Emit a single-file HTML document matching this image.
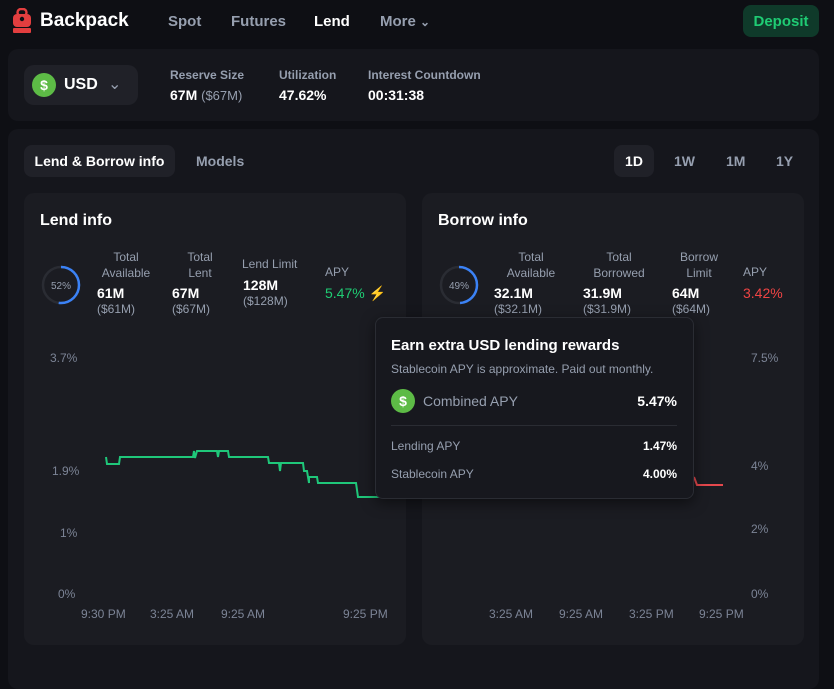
<!DOCTYPE html><html><head><style>
*{margin:0;padding:0;box-sizing:border-box}
body{width:834px;height:667px;background:#0e0f14;font-family:"Liberation Sans",sans-serif;color:#fff;position:relative;overflow:hidden}
.a{position:absolute;white-space:nowrap}
.g{color:#969faf}.gd{color:#7c8496}
.b{font-weight:bold}
.c{text-align:center}
.r{text-align:right}
</style></head><body>
<!-- nav -->
<svg class="a" style="left:12px;top:8px" width="20" height="26"><rect x="5.5" y="1" width="9" height="7" rx="3.5" fill="none" stroke="#e33e3f" stroke-width="2.4"/><rect x="1" y="6" width="18" height="13" rx="4" fill="#e33e3f"/><circle cx="10" cy="11" r="2.2" fill="#0e0f14"/><rect x="1" y="20" width="18" height="5" rx="1" fill="#e33e3f"/></svg>
<div class="a b" style="left:40px;top:10px;font-size:19px">Backpack</div>
<div class="a b g" style="left:168px;top:13px;font-size:15px">Spot</div>
<div class="a b g" style="left:231px;top:13px;font-size:15px">Futures</div>
<div class="a b" style="left:314px;top:13px;font-size:15px">Lend</div>
<div class="a b g" style="left:380px;top:13px;font-size:15px">More <span style="font-size:12px">&#8964;</span></div>
<div class="a b" style="left:743px;top:5px;width:76px;height:32px;border-radius:8px;background:#0f3a2a;color:#1fcc74;font-size:15px;display:flex;align-items:center;justify-content:center">Deposit</div>
<!-- panel 1 -->
<div class="a" style="left:8px;top:49px;width:811px;height:72px;border-radius:10px;background:#15161c"></div>
<div class="a" style="left:24px;top:65px;width:114px;height:40px;border-radius:10px;background:#202128"></div>
<div class="a" style="left:32px;top:73px;width:24px;height:24px;border-radius:50%;background:#5dbb46;text-align:center;line-height:24px;font-size:14px;font-weight:bold">$</div>
<div class="a b" style="left:64px;top:76px;font-size:16px">USD</div>
<div class="a g" style="left:108px;top:74px;font-size:16px">&#8964;</div>
<div class="a g b" style="left:170px;top:68px;font-size:12px">Reserve Size</div>
<div class="a b" style="left:170px;top:87px;font-size:14px">67M <span class="g" style="font-weight:normal;font-size:13px">($67M)</span></div>
<div class="a g b" style="left:279px;top:68px;font-size:12px">Utilization</div>
<div class="a b" style="left:279px;top:87px;font-size:14px">47.62%</div>
<div class="a g b" style="left:368px;top:68px;font-size:12px">Interest Countdown</div>
<div class="a b" style="left:368px;top:87px;font-size:14px">00:31:38</div>
<!-- panel 2 -->
<div class="a" style="left:8px;top:129px;width:811px;height:560px;border-radius:10px;background:#15161c"></div>
<div class="a b" style="left:24px;top:145px;width:151px;height:32px;border-radius:8px;background:#202128;font-size:14px;text-align:center;line-height:32px">Lend &amp; Borrow info</div>
<div class="a b g" style="left:196px;top:153px;font-size:14px">Models</div>
<div class="a b" style="left:614px;top:145px;width:40px;height:32px;border-radius:8px;background:#202128;font-size:14px;text-align:center;line-height:32px">1D</div>
<div class="a b g" style="left:674px;top:153px;font-size:14px">1W</div>
<div class="a b g" style="left:726px;top:153px;font-size:14px">1M</div>
<div class="a b g" style="left:776px;top:153px;font-size:14px">1Y</div>
<!-- cards -->
<div class="a" style="left:24px;top:193px;width:382px;height:452px;border-radius:10px;background:#1b1c22"></div>
<div class="a" style="left:422px;top:193px;width:382px;height:452px;border-radius:10px;background:#1b1c22"></div>
<div class="a b" style="left:40px;top:212px;font-size:16px">Lend info</div>
<div class="a b" style="left:438px;top:212px;font-size:16px">Borrow info</div>
<svg class="a" style="left:40px;top:264px" width="42" height="42"><circle cx="21" cy="21" r="18" fill="none" stroke="#2a2c33" stroke-width="2.5"/><circle cx="21" cy="21" r="18" fill="none" stroke="#3b82f6" stroke-width="2.5" stroke-dasharray="58.8 113.1" transform="rotate(-90 21 21)"/><text x="21" y="25" fill="#969faf" font-size="10" text-anchor="middle" font-family="Liberation Sans">52%</text></svg>
<svg class="a" style="left:438px;top:264px" width="42" height="42"><circle cx="21" cy="21" r="18" fill="none" stroke="#2a2c33" stroke-width="2.5"/><circle cx="21" cy="21" r="18" fill="none" stroke="#3b82f6" stroke-width="2.5" stroke-dasharray="55.4 113.1" transform="rotate(-90 21 21)"/><text x="21" y="25" fill="#969faf" font-size="10" text-anchor="middle" font-family="Liberation Sans">49%</text></svg>
<div class="a g c" style="left:96px;top:249px;width:60px;font-size:12px;line-height:16px">Total<br>Available</div>
<div class="a b" style="left:97px;top:285px;font-size:14px">61M</div><div class="a g" style="left:97px;top:302px;font-size:12px">($61M)</div>
<div class="a g c" style="left:180px;top:249px;width:40px;font-size:12px;line-height:16px">Total<br>Lent</div>
<div class="a b" style="left:172px;top:285px;font-size:14px">67M</div><div class="a g" style="left:172px;top:302px;font-size:12px">($67M)</div>
<div class="a g" style="left:242px;top:257px;font-size:12px">Lend Limit</div>
<div class="a b" style="left:243px;top:277px;font-size:14px">128M</div><div class="a g" style="left:243px;top:294px;font-size:12px">($128M)</div>
<div class="a g" style="left:325px;top:265px;font-size:12px">APY</div>
<div class="a" style="left:325px;top:285px;font-size:14px;color:#1fcc74">5.47% <span style="color:#f5a524">&#9889;</span></div>
<div class="a g c" style="left:496px;top:249px;width:70px;font-size:12px;line-height:16px">Total<br>Available</div>
<div class="a b" style="left:494px;top:285px;font-size:14px">32.1M</div><div class="a g" style="left:494px;top:302px;font-size:12px">($32.1M)</div>
<div class="a g c" style="left:584px;top:249px;width:70px;font-size:12px;line-height:16px">Total<br>Borrowed</div>
<div class="a b" style="left:583px;top:285px;font-size:14px">31.9M</div><div class="a g" style="left:583px;top:302px;font-size:12px">($31.9M)</div>
<div class="a g c" style="left:674px;top:249px;width:50px;font-size:12px;line-height:16px">Borrow<br>Limit</div>
<div class="a b" style="left:672px;top:285px;font-size:14px">64M</div><div class="a g" style="left:672px;top:302px;font-size:12px">($64M)</div>
<div class="a g" style="left:743px;top:265px;font-size:12px">APY</div>
<div class="a" style="left:743px;top:285px;font-size:14px;color:#ef4444">3.42%</div>
<!-- axes -->
<div class="a gd" style="left:50px;top:351px;font-size:12px">3.7%</div>
<div class="a gd" style="left:52px;top:464px;font-size:12px">1.9%</div>
<div class="a gd" style="left:60px;top:526px;font-size:12px">1%</div>
<div class="a gd" style="left:58px;top:587px;font-size:12px">0%</div>
<div class="a gd" style="left:751px;top:351px;font-size:12px">7.5%</div>
<div class="a gd" style="left:751px;top:459px;font-size:12px">4%</div>
<div class="a gd" style="left:751px;top:522px;font-size:12px">2%</div>
<div class="a gd" style="left:751px;top:587px;font-size:12px">0%</div>
<div class="a gd" style="left:81px;top:607px;font-size:12px">9:30 PM</div>
<div class="a gd" style="left:150px;top:607px;font-size:12px">3:25 AM</div>
<div class="a gd" style="left:221px;top:607px;font-size:12px">9:25 AM</div>
<div class="a gd" style="left:343px;top:607px;font-size:12px">9:25 PM</div>
<div class="a gd" style="left:489px;top:607px;font-size:12px">3:25 AM</div>
<div class="a gd" style="left:559px;top:607px;font-size:12px">9:25 AM</div>
<div class="a gd" style="left:629px;top:607px;font-size:12px">3:25 PM</div>
<div class="a gd" style="left:699px;top:607px;font-size:12px">9:25 PM</div>
<svg class="a" style="left:0;top:0" width="834" height="667"><polyline fill="none" stroke="#1fc77a" stroke-width="2" points="106,457 107,464 119,464 120,457 193,457 194,451 195,458 197,451 217,451 218,457 219,451 228,451 229,457 268,457 269,463 279,463 280,471 281,463 303,463 304,471 307,471 309,483 309,477 317,477 318,483 356,483 358,497 380,497"/><polyline fill="none" stroke="#e5484d" stroke-width="2" points="694,477 697,485 723,485"/></svg>
<!-- tooltip -->
<div class="a" style="left:375px;top:317px;width:319px;height:182px;border-radius:8px;background:#17181e;border:1px solid #2a2c33;box-shadow:0 4px 14px rgba(0,0,0,.5)"></div>
<div class="a b" style="left:391px;top:337px;font-size:15px">Earn extra USD lending rewards</div>
<div class="a g" style="left:391px;top:362px;font-size:12px">Stablecoin APY is approximate. Paid out monthly.</div>
<div class="a" style="left:391px;top:389px;width:24px;height:24px;border-radius:50%;background:#5dbb46;text-align:center;line-height:24px;font-size:14px;font-weight:bold">$</div>
<div class="a g" style="left:423px;top:393px;font-size:14px">Combined APY</div>
<div class="a b r" style="left:577px;width:100px;top:393px;font-size:14px">5.47%</div>
<div class="a" style="left:391px;top:425px;width:286px;height:1px;background:#2a2c33"></div>
<div class="a g" style="left:391px;top:439px;font-size:12px">Lending APY</div>
<div class="a b r" style="left:577px;width:100px;top:439px;font-size:12px">1.47%</div>
<div class="a g" style="left:391px;top:467px;font-size:12px">Stablecoin APY</div>
<div class="a b r" style="left:577px;width:100px;top:467px;font-size:12px">4.00%</div>
</body></html>
